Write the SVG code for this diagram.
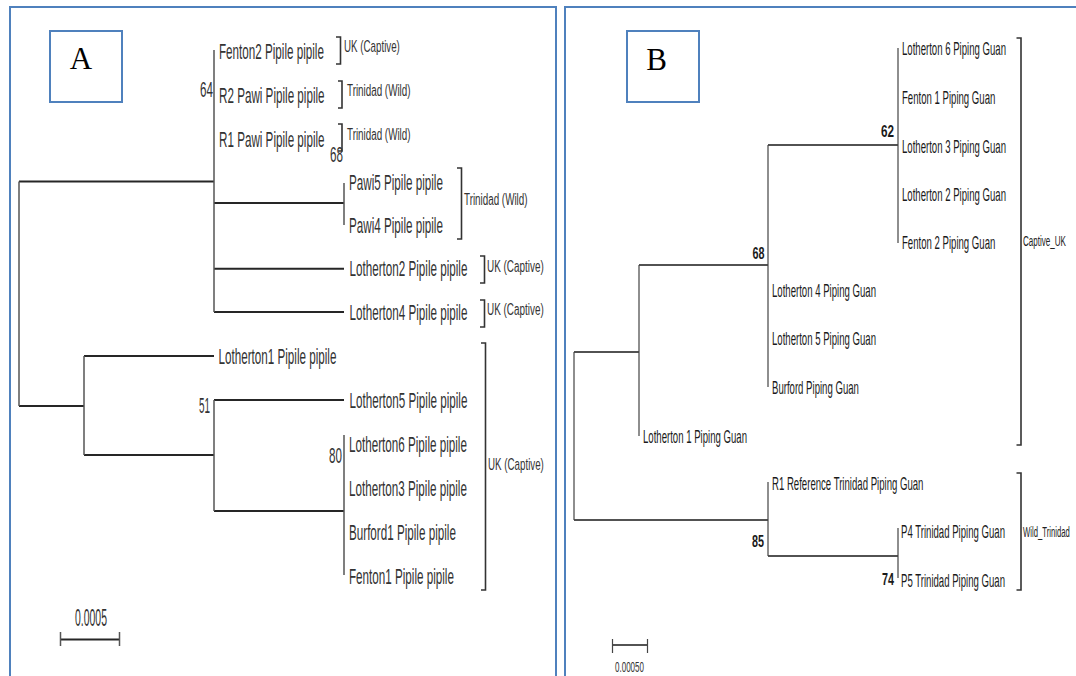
<svg xmlns="http://www.w3.org/2000/svg" width="1076" height="676" viewBox="0 0 1076 676">
  <style>
    .frame { fill: none; stroke: #4f81bd; stroke-width: 2; }
    .tag { font-family: "Liberation Serif", "Times New Roman", serif; font-size: 31px; fill: #000; text-anchor: middle; }
    .hz { fill: none; stroke: #262626; stroke-width: 2; }
    .vt { fill: none; stroke: #555; stroke-width: 1.5; }
    .hzb { fill: none; stroke: #1a1a1a; stroke-width: 1.6; }
    .vtb { fill: none; stroke: #444; stroke-width: 1.2; }
    .brk { fill: none; stroke: #333; stroke-width: 1.6; }
    text { font-family: "Liberation Sans", Arial, sans-serif; }
    .taxA { font-size: 22px; fill: #333; }
    .grpA { font-size: 16px; fill: #333; }
    .bsA { font-size: 22px; fill: #333; }
    .taxB { font-size: 19px; fill: #1a1a1a; }
    .grpB { font-size: 15px; fill: #222; }
    .bsB { font-size: 17px; font-weight: bold; fill: #1a1a1a; }
    .scl { fill: #333; }
  </style>
  <rect width="1076" height="676" fill="#ffffff"/>

  <!-- Panel frames and letter boxes -->
  <g id="panel-frames">
    <path class="frame" d="M10,690 V7 H556 V690"/>
    <path class="frame" d="M565,690 V7 H1090"/>
  </g>
  <g id="tag-A">
    <rect class="frame" x="50" y="31" width="72" height="71"/>
    <text class="tag" x="81" y="69">A</text>
  </g>
  <g id="tag-B">
    <rect class="frame" x="627" y="31" width="72" height="71"/>
    <text class="tag" x="656.5" y="70">B</text>
  </g>

  <!-- Tree A branches -->
  <g id="connectors-A">
    <path class="hz" d="M19,181.5 H214 M19,406 H84 M214,203 H344 M214,268.7 H344 M214,312 H344 M84,356 H214 M84,455 H214 M214,400 H344 M214,511 H344"/>
    <path class="vt" d="M19,181.5 V406 M214,50 V312 M344,183 V225 M84,356 V455 M214,400 V511 M344,435 V575"/>
    <path class="brk" d="M336,37 H340.5 V64 H336 M338,81 H342 V108 H338 M338,124 H342 V151 H338 M457,168 H461.5 V239 H457 M480,256 H484.5 V283 H480 M480,300 H484.5 V327 H480 M481,343 H485.5 V590 H481"/>
  </g>

  <!-- Tree A taxa (condensed type) -->
  <g id="taxa-A">
    <text id="a-fenton2" class="taxA" transform="translate(219,58.5) scale(0.53,1)">Fenton2 Pipile pipile</text>
    <text id="a-r2pawi" class="taxA" transform="translate(219,102.5) scale(0.53,1)">R2 Pawi Pipile pipile</text>
    <text id="a-r1pawi" class="taxA" transform="translate(219,146.5) scale(0.53,1)">R1 Pawi Pipile pipile</text>
    <text id="a-pawi5" class="taxA" transform="translate(349,189.5) scale(0.53,1)">Pawi5 Pipile pipile</text>
    <text id="a-pawi4" class="taxA" transform="translate(349,232.5) scale(0.53,1)">Pawi4 Pipile pipile</text>
    <text id="a-lotherton2" class="taxA" transform="translate(349.5,275.5) scale(0.53,1)">Lotherton2 Pipile pipile</text>
    <text id="a-lotherton4" class="taxA" transform="translate(349.5,319.5) scale(0.53,1)">Lotherton4 Pipile pipile</text>
    <text id="a-lotherton1" class="taxA" transform="translate(218.5,363.5) scale(0.53,1)">Lotherton1 Pipile pipile</text>
    <text id="a-lotherton5" class="taxA" transform="translate(349.5,407.5) scale(0.53,1)">Lotherton5 Pipile pipile</text>
    <text id="a-lotherton6" class="taxA" transform="translate(349,451.5) scale(0.53,1)">Lotherton6 Pipile pipile</text>
    <text id="a-lotherton3" class="taxA" transform="translate(349,495.5) scale(0.53,1)">Lotherton3 Pipile pipile</text>
    <text id="a-burford1" class="taxA" transform="translate(349,539.5) scale(0.53,1)">Burford1 Pipile pipile</text>
    <text id="a-fenton1" class="taxA" transform="translate(349,583.5) scale(0.53,1)">Fenton1 Pipile pipile</text>
  </g>

  <!-- Tree A group labels and bootstrap values -->
  <g id="groups-A">
    <text class="grpA" transform="translate(344,52) scale(0.61,1)">UK (Captive)</text>
    <text class="grpA" transform="translate(347,96) scale(0.615,1)">Trinidad (Wild)</text>
    <text class="grpA" transform="translate(347,140) scale(0.615,1)">Trinidad (Wild)</text>
    <text class="grpA" transform="translate(464,205) scale(0.615,1)">Trinidad (Wild)</text>
    <text class="grpA" transform="translate(487,272) scale(0.62,1)">UK (Captive)</text>
    <text class="grpA" transform="translate(487,315) scale(0.62,1)">UK (Captive)</text>
    <text class="grpA" transform="translate(488,470) scale(0.61,1)">UK (Captive)</text>
  </g>
  <g id="support-A">
    <text class="bsA" transform="translate(200,97) scale(0.53,1)">64</text>
    <text class="bsA" transform="translate(330,162) scale(0.53,1)">68</text>
    <text class="bsA" transform="translate(199,413) scale(0.45,1)">51</text>
    <text class="bsA" transform="translate(329,463) scale(0.53,1)">80</text>
  </g>

  <!-- Scale bar A -->
  <g id="scale-A">
    <path class="hz" d="M60,639.5 H119.5"/>
    <path class="vt" d="M60.5,632 V646 M119.5,632 V646"/>
    <text class="scl" font-size="23" transform="translate(75,626) scale(0.455,1)">0.0005</text>
  </g>

  <!-- Tree B branches -->
  <g id="connectors-B">
    <path class="hzb" d="M574,352 H639 M639,265 H768 M768,145 H898 M574,520 H768 M768,556 H898"/>
    <path class="vtb" d="M574,352 V520 M639,265 V436 M768,145 V387 M898,48 V243 M768,482 V556 M898,528 V578"/>
    <path class="brk" d="M1016.5,38 H1021 V445 H1016.5 M1016.5,473 H1021 V590 H1016.5"/>
  </g>

  <!-- Tree B taxa (condensed type) -->
  <g id="taxa-B">
    <text id="b-lotherton6" class="taxB" transform="translate(902,54.5) scale(0.505,1)">Lotherton 6 Piping Guan</text>
    <text id="b-fenton1" class="taxB" transform="translate(902,103.5) scale(0.505,1)">Fenton 1 Piping Guan</text>
    <text id="b-lotherton3" class="taxB" transform="translate(902,152.5) scale(0.505,1)">Lotherton 3 Piping Guan</text>
    <text id="b-lotherton2" class="taxB" transform="translate(902,200.5) scale(0.505,1)">Lotherton 2 Piping Guan</text>
    <text id="b-fenton2" class="taxB" transform="translate(902,248.5) scale(0.505,1)">Fenton 2 Piping Guan</text>
    <text id="b-lotherton4" class="taxB" transform="translate(772,296.5) scale(0.505,1)">Lotherton 4 Piping Guan</text>
    <text id="b-lotherton5" class="taxB" transform="translate(772,344.5) scale(0.505,1)">Lotherton 5 Piping Guan</text>
    <text id="b-burford" class="taxB" transform="translate(772,393.5) scale(0.505,1)">Burford Piping Guan</text>
    <text id="b-lotherton1" class="taxB" transform="translate(643,442.5) scale(0.505,1)">Lotherton 1 Piping Guan</text>
    <text id="b-r1ref" class="taxB" transform="translate(772,489.5) scale(0.505,1)">R1 Reference Trinidad Piping Guan</text>
    <text id="b-p4" class="taxB" transform="translate(901,537.5) scale(0.505,1)">P4 Trinidad Piping Guan</text>
    <text id="b-p5" class="taxB" transform="translate(901,586.5) scale(0.505,1)">P5 Trinidad Piping Guan</text>
  </g>

  <!-- Tree B group labels and bootstrap values -->
  <g id="groups-B">
    <text class="grpB" transform="translate(1023,246) scale(0.537,1)">Captive_UK</text>
    <text class="grpB" transform="translate(1023,537) scale(0.513,1)">Wild_Trinidad</text>
  </g>
  <g id="support-B">
    <text class="bsB" transform="translate(752.5,259) scale(0.635,1)">68</text>
    <text class="bsB" transform="translate(881,137) scale(0.69,1)">62</text>
    <text class="bsB" transform="translate(752,547) scale(0.635,1)">85</text>
    <text class="bsB" transform="translate(882,585) scale(0.635,1)">74</text>
  </g>

  <!-- Scale bar B -->
  <g id="scale-B">
    <path class="hzb" d="M612,645 H648"/>
    <path class="vtb" d="M612.5,639 V653 M647.5,639 V653"/>
    <text class="scl" font-size="14" transform="translate(615,672) scale(0.573,1)">0.00050</text>
  </g>
</svg>
